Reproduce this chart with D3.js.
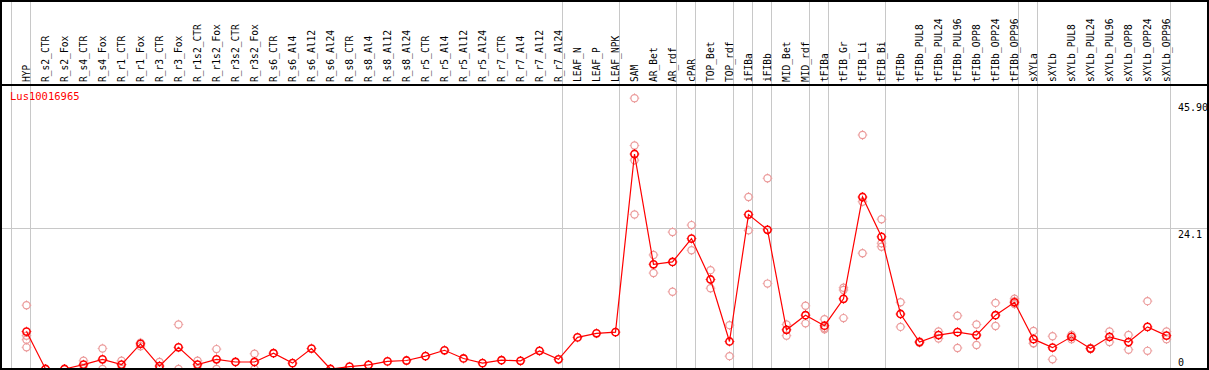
<!DOCTYPE html>
<meta charset="utf-8">
<title>Lus10016965</title>
<style>
  body { margin: 0; background: #fff; }
  text { font-family: "DejaVu Sans Mono", monospace; }
  .lbl { font-size: 9.6px; fill: #000; }
  .tick { font-size: 10px; fill: #000; }
  .grid { stroke: #c8c8c8; stroke-width: 1.2; shape-rendering: crispEdges; }
  .frame { stroke: #000; stroke-width: 2; fill: none; shape-rendering: crispEdges; }
</style>
<body>
<script src="https://cdn.jsdelivr.net/npm/d3@7"></script>
<script>
var geneName = "Lus10016965";

var categories = ["HYP","R_s2_CTR","R_s2_Fox","R_s4_CTR","R_s4_Fox","R_r1_CTR","R_r1_Fox","R_r3_CTR","R_r3_Fox",
  "R_r1s2_CTR","R_r1s2_Fox","R_r3s2_CTR","R_r3s2_Fox","R_s6_CTR","R_s6_Al4","R_s6_Al12","R_s6_Al24",
  "R_s8_CTR","R_s8_Al4","R_s8_Al12","R_s8_Al24","R_r5_CTR","R_r5_Al4","R_r5_Al12","R_r5_Al24",
  "R_r7_CTR","R_r7_Al4","R_r7_Al12","R_r7_Al24","LEAF_N","LEAF_P","LEAF_NPK","SAM","AR_Bet","AR_rdf",
  "cPAR","TOP_Bet","TOP_rdf","iFIBa","iFIBb","MID_Bet","MID_rdf","tFIBa","tFIB_Gr","tFIB_Li","tFIB_Bi",
  "tFIBb","tFIBb_PUL8","tFIBb_PUL24","tFIBb_PUL96","tFIBb_OPP8","tFIBb_OPP24","tFIBb_OPP96",
  "sXYLa","sXYLb","sXYLb_PUL8","sXYLb_PUL24","sXYLb_PUL96","sXYLb_OPP8","sXYLb_OPP24","sXYLb_OPP96"];

// mean expression per sample
var means = [6.4,0,0,0.75,1.65,0.75,4.3,0.5,3.7,
  0.75,1.65,1.2,1.2,2.7,1.0,3.5,0,
  0.4,0.7,1.3,1.45,2.2,3.2,1.8,1.0,
  1.5,1.4,3.1,1.65,5.4,6.1,6.3,36.75,17.9,18.3,
  22.3,15.3,4.7,26.4,23.8,6.7,9.2,7.4,12.0,29.4,22.6,
  9.4,4.6,5.8,6.3,5.8,9.2,11.4,
  5.1,3.65,5.5,3.5,5.5,4.6,7.2,5.7];

// replicate values per sample
var replicates = [[10.9,5.7,5.0,3.7],[0,0],[0,0],[1.4,0],[3.5,0],[1.4,0],[4.5,3.9],[1.2,0],[7.6,0],
  [1.4,0],[3.4,0],[],[2.6,0],[],[],[],[],
  [],[],[],[],[],[],[],[],
  [],[],[],[],[],[],[],[46.3,38.2,35.7,26.4],[19.5,16.4],[23.4,13.2],
  [24.6,20.3],[16.9,13.8],[7.5,2.2],[29.4,23.7],[32.6,14.6],[7.6,5.7],[10.8,7.8],[8.5,7.0,6.8],[13.9,13.5,8.7],[40.0,28.6,19.8],[25.6,21.5,20.9],
  [11.4,7.2],[4.7,4.5],[6.4,5.2],[9.1,3.6],[7.6,4.1],[11.3,7.35],[12.0,11.6,11.1],
  [6.5,4.4,4.4],[5.6,1.65],[5.8,5.1],[3.6,3.4],[6.4,4.6],[5.8,3.3],[11.6,3.1],[6.4,5.1]];

// column indices where a new sample group starts
var groupBreaks = [0,1,29,32,35,36,38,39,40,42,43,46,53,54,61];

var yTicks = [45.9, 24.1, 0];
var yTickLabels = ["45.90", "24.1", "0"];

var W = 1209, H = 370;
var headerY = 85;

var svg = d3.select("body").append("svg")
  .attr("width", W).attr("height", H);

// column edges, and point position inside each column
var xEdge = d3.scaleLinear().domain([0, categories.length]).range([11.3, 11.3 + 19 * categories.length]);
var xPos = function(i) { return xEdge(i) + 15.2; };
var y = d3.scaleLinear().domain([0, 45.9]).range([369, 100.5]);

// separators
svg.append("g").selectAll("line")
  .data(groupBreaks)
  .enter().append("line")
  .attr("class", "grid")
  .attr("x1", function(d) { return Math.round(xEdge(d)) + 0.5; })
  .attr("x2", function(d) { return Math.round(xEdge(d)) + 0.5; })
  .attr("y1", 0).attr("y2", H);

// horizontal gridline at middle tick
svg.append("line")
  .attr("class", "grid")
  .attr("x1", 0).attr("x2", W)
  .attr("y1", Math.round(y(24.1)) + 0.5).attr("y2", Math.round(y(24.1)) + 0.5);

// header rule
svg.append("line")
  .attr("x1", 0).attr("x2", W)
  .attr("y1", headerY).attr("y2", headerY)
  .attr("stroke", "#000").attr("stroke-width", 2)
  .style("shape-rendering", "crispEdges");

// column labels
svg.append("g").selectAll("text")
  .data(categories)
  .enter().append("text")
  .attr("class", "lbl")
  .attr("transform", function(d, i) { return "translate(" + (xPos(i) + 3) + "," + 82 + ") rotate(-90)"; })
  .text(function(d) { return d; });

// gene name
svg.append("text")
  .attr("x", 10).attr("y", 100)
  .attr("font-size", "10.5px")
  .attr("fill", "#ff0000")
  .text(geneName);

// y tick labels
svg.append("g").selectAll("text")
  .data(yTicks)
  .enter().append("text")
  .attr("class", "tick")
  .attr("x", 1178)
  .attr("y", function(d) { return d > 0 ? y(d) + 10 : y(d) - 3; })
  .text(function(d, i) { return yTickLabels[i]; });

function marker(g, cx, cy, color, sw) {
  g.append("circle").attr("cx", cx).attr("cy", cy).attr("r", 3.6)
    .attr("fill", "none").attr("stroke", color).attr("stroke-width", sw);
  [[0, -1], [0, 1], [-1, 0], [1, 0]].forEach(function(d) {
    g.append("line")
      .attr("x1", cx + d[0] * 3.8).attr("y1", cy + d[1] * 3.8)
      .attr("x2", cx + d[0] * 4.8).attr("y2", cy + d[1] * 4.8)
      .attr("stroke", color).attr("stroke-width", 1);
  });
}

// replicate points
var repG = svg.append("g");
replicates.forEach(function(reps, i) {
  reps.forEach(function(v) { marker(repG, xPos(i), y(v), "#eb9a9a", 1.2); });
});

// mean line
var line = d3.line()
  .x(function(d, i) { return xPos(i); })
  .y(function(d) { return y(d); });

svg.append("path")
  .datum(means)
  .attr("d", line)
  .attr("fill", "none")
  .attr("stroke", "#ff0000")
  .attr("stroke-width", 1.2);

var meanG = svg.append("g");
means.forEach(function(v, i) { marker(meanG, xPos(i), y(v), "#ff0000", 1.6); });

// outer frame
svg.append("rect")
  .attr("class", "frame")
  .attr("x", 1).attr("y", 1).attr("width", W - 2).attr("height", H - 2);
</script>
</body>
